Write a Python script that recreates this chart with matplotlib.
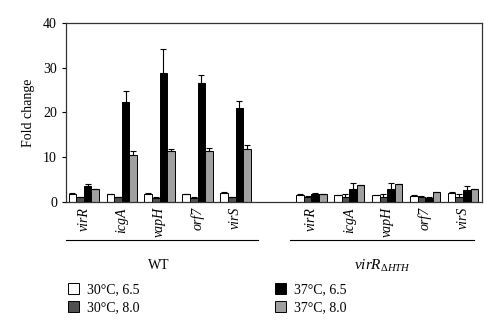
import numpy as np
import matplotlib
matplotlib.use("Agg")
import matplotlib.pyplot as plt
from matplotlib.patches import Patch
import matplotlib.transforms as mtransforms

plt.rcParams['font.family'] = ['Liberation Serif', 'DejaVu Serif']
plt.rcParams['mathtext.fontset'] = 'custom'
plt.rcParams['mathtext.rm'] = 'Liberation Serif'
plt.rcParams['mathtext.it'] = 'Liberation Serif:italic'

genes = ["virR", "icgA", "vapH", "orf7", "virS"]
conditions = ["30°C, 6.5", "30°C, 8.0", "37°C, 6.5", "37°C, 8.0"]

# fold change, WT strain (one list per condition, in gene order)
wt_30_65 = [1.8, 1.6, 1.7, 1.6, 1.9]
wt_30_80 = [1.0, 1.0, 0.9, 0.9, 1.0]
wt_37_65 = [3.4, 22.3, 28.8, 26.5, 20.9]
wt_37_80 = [2.7, 10.4, 11.4, 11.4, 11.8]
wt_err_30_65 = [0.2, 0.15, 0.15, 0.15, 0.2]
wt_err_30_80 = [0.1, 0.1, 0.1, 0.1, 0.1]
wt_err_37_65 = [0.5, 2.5, 5.5, 1.9, 1.6]
wt_err_37_80 = [0.2, 0.9, 0.3, 0.5, 0.8]

# fold change, virR dHTH mutant
mut_30_65 = [1.5, 1.4, 1.4, 1.35, 2.0]
mut_30_80 = [1.1, 1.1, 1.1, 1.05, 1.1]
mut_37_65 = [1.8, 2.9, 2.85, 0.9, 2.55]
mut_37_80 = [1.6, 3.6, 3.85, 2.1, 2.7]
mut_err_30_65 = [0.1, 0.1, 0.1, 0.1, 0.15]
mut_err_30_80 = [0.1, 0.6, 0.5, 0.1, 0.6]
mut_err_37_65 = [0.1, 1.3, 1.2, 0.05, 1.0]
mut_err_37_80 = [0.1, 0.15, 0.15, 0.1, 0.15]

colors = ["white", "#505050", "black", "#a0a0a0"]

wt_vals = [wt_30_65, wt_30_80, wt_37_65, wt_37_80]
wt_errs = [wt_err_30_65, wt_err_30_80, wt_err_37_65, wt_err_37_80]
mut_vals = [mut_30_65, mut_30_80, mut_37_65, mut_37_80]
mut_errs = [mut_err_30_65, mut_err_30_80, mut_err_37_65, mut_err_37_80]

fig = plt.figure(figsize=(5, 3.32), dpi=100)
ax = fig.add_axes([0.132, 0.393, 0.832, 0.537])

x_wt = np.arange(len(genes))
x_mut = x_wt + 6
width = 0.2

for i in range(4):
    vals = wt_vals[i] + mut_vals[i]
    errs = wt_errs[i] + mut_errs[i]
    pos = np.concatenate([x_wt, x_mut]) + (i - 1.5) * width
    ax.bar(pos, vals, width, color=colors[i], edgecolor="black", linewidth=0.7,
           yerr=[np.zeros(len(errs)), errs], capsize=2,
           error_kw=dict(elinewidth=0.8, capthick=0.8, ecolor="black"))

ax.set_xlim(-0.47, 10.5)
ax.set_ylim(0, 40)
ax.set_yticks([0, 10, 20, 30, 40])
ax.set_ylabel("Fold change", fontsize=10, labelpad=6)
ax.set_xticks(np.concatenate([x_wt, x_mut]))
ax.set_xticklabels(genes + genes, rotation=90, style="italic", fontsize=10)
ax.tick_params(axis="x", length=0, pad=4)
ax.tick_params(axis="y", labelsize=10, length=3, width=0.8, direction="out")
for s in ax.spines.values():
    s.set_linewidth(0.9)
    s.set_color("#333333")

# strain brackets beneath the gene labels
trans = mtransforms.blended_transform_factory(ax.transData, ax.transAxes)
ax.plot([-0.47, 4.6], [-0.215, -0.215], color="black", lw=0.8, transform=trans, clip_on=False)
ax.plot([5.45, 10.3], [-0.215, -0.215], color="black", lw=0.8, transform=trans, clip_on=False)
fig.text(0.318, 0.2, "WT", ha="center", va="center", fontsize=10)
fig.text(0.765, 0.2, r"$\mathit{virR}_{\mathit{\Delta HTH}}$", ha="center", va="center", fontsize=11)

handles = [Patch(facecolor=c, edgecolor="black", linewidth=0.7) for c in colors]
fig.legend(handles, conditions, ncol=2, loc="center left", bbox_to_anchor=(0.111, 0.1),
           frameon=False, fontsize=10, handlelength=0.8, handleheight=0.8,
           handletextpad=0.6, columnspacing=9.7, labelspacing=0.35)

fig.savefig("out.png", dpi=100)
